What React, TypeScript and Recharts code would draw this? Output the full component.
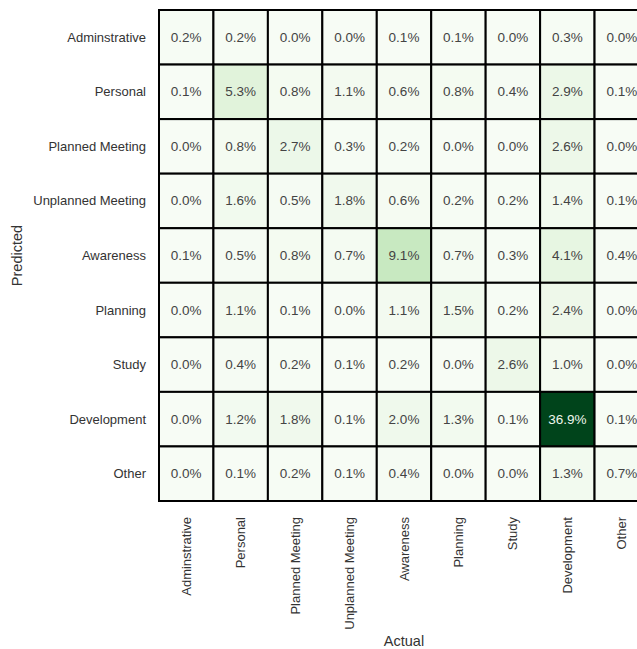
import React from 'react';
import { ScatterChart, Scatter, XAxis, YAxis } from 'recharts';

const categories = [
  'Adminstrative',
  'Personal',
  'Planned Meeting',
  'Unplanned Meeting',
  'Awareness',
  'Planning',
  'Study',
  'Development',
  'Other',
];

// rows = predicted, columns = actual (percent)
const rowAdminstrative = [0.2, 0.2, 0.0, 0.0, 0.1, 0.1, 0.0, 0.3, 0.0];
const rowPersonal = [0.1, 5.3, 0.8, 1.1, 0.6, 0.8, 0.4, 2.9, 0.1];
const rowPlannedMeeting = [0.0, 0.8, 2.7, 0.3, 0.2, 0.0, 0.0, 2.6, 0.0];
const rowUnplannedMeeting = [0.0, 1.6, 0.5, 1.8, 0.6, 0.2, 0.2, 1.4, 0.1];
const rowAwareness = [0.1, 0.5, 0.8, 0.7, 9.1, 0.7, 0.3, 4.1, 0.4];
const rowPlanning = [0.0, 1.1, 0.1, 0.0, 1.1, 1.5, 0.2, 2.4, 0.0];
const rowStudy = [0.0, 0.4, 0.2, 0.1, 0.2, 0.0, 2.6, 1.0, 0.0];
const rowDevelopment = [0.0, 1.2, 1.8, 0.1, 2.0, 1.3, 0.1, 36.9, 0.1];
const rowOther = [0.0, 0.1, 0.2, 0.1, 0.4, 0.0, 0.0, 1.3, 0.7];

const xLabel = 'Actual';
const yLabel = 'Predicted';

const matrix = [
  rowAdminstrative,
  rowPersonal,
  rowPlannedMeeting,
  rowUnplannedMeeting,
  rowAwareness,
  rowPlanning,
  rowStudy,
  rowDevelopment,
  rowOther,
];

const N = categories.length;
const VMAX = Math.max(...matrix.flat());

const data = matrix.flatMap((row, i) =>
  row.map((v, j) => ({ x: j + 0.5, y: i + 0.5, v }))
);
const ticks = categories.map((_, i) => i + 0.5);

const CHART_W = 670;
const CHART_H = 649;
const MARGIN = { top: 10, right: 21, bottom: 0, left: 0 };
const Y_AXIS_W = 159;
const X_AXIS_H = 148;
const PLOT_W = CHART_W - MARGIN.left - MARGIN.right - Y_AXIS_W;
const PLOT_H = CHART_H - MARGIN.top - MARGIN.bottom - X_AXIS_H;

const GREENS = [
  [247, 252, 245],
  [229, 245, 224],
  [199, 233, 192],
  [161, 217, 155],
  [116, 196, 118],
  [65, 171, 93],
  [35, 139, 69],
  [0, 109, 44],
  [0, 68, 27],
];

function greens(t: number): string {
  const tt = Math.max(0, Math.min(1, t)) * (GREENS.length - 1);
  const i = Math.min(Math.floor(tt), GREENS.length - 2);
  const f = tt - i;
  const a = GREENS[i];
  const b = GREENS[i + 1];
  const c = a.map((av, k) => Math.round(av + (b[k] - av) * f));
  return `rgb(${c[0]},${c[1]},${c[2]})`;
}

const FONT = '"Liberation Sans", Arial, Helvetica, sans-serif';

const CellShape = (props: any) => {
  const { cx, cy, payload } = props;
  const w = PLOT_W / N;
  const h = PLOT_H / N;
  const t = payload.v / VMAX;
  return (
    <g>
      <rect
        x={cx - w / 2}
        y={cy - h / 2}
        width={w}
        height={h}
        fill={greens(t)}
        stroke="#000"
        strokeWidth={2}
      />
      <text
        x={cx}
        y={cy}
        textAnchor="middle"
        dominantBaseline="central"
        fontSize={13.5}
        fontFamily={FONT}
        fill={t > 0.5 ? '#eef7ec' : '#444'}
      >
        {payload.v.toFixed(1)}%
      </text>
    </g>
  );
};

const XTick = (props: any) => {
  const { x, y, payload } = props;
  const label = categories[Math.floor(payload.value)];
  const ty = y + 16;
  return (
    <text
      x={x}
      y={ty}
      transform={`rotate(-90, ${x}, ${ty})`}
      textAnchor="end"
      dominantBaseline="central"
      fontSize={13}
      fontFamily={FONT}
      fill="#333"
    >
      {label}
    </text>
  );
};

const YTick = (props: any) => {
  const { x, y, payload } = props;
  const label = categories[Math.floor(payload.value)];
  return (
    <text
      x={x - 13}
      y={y}
      textAnchor="end"
      dominantBaseline="central"
      fontSize={13}
      fontFamily={FONT}
      fill="#333"
    >
      {label}
    </text>
  );
};

const XLabel = (props: any) => {
  const vb = props.viewBox || {};
  return (
    <text
      x={vb.x + vb.width / 2}
      y={vb.y + vb.height - 3}
      textAnchor="middle"
      fontSize={14.5}
      fontFamily={FONT}
      fill="#333"
    >
      {xLabel}
    </text>
  );
};

const YLabel = (props: any) => {
  const vb = props.viewBox || {};
  const cx = 22;
  const cy = vb.y + vb.height / 2;
  return (
    <text
      x={cx}
      y={cy}
      transform={`rotate(-90, ${cx}, ${cy})`}
      textAnchor="middle"
      fontSize={14.5}
      fontFamily={FONT}
      fill="#333"
    >
      {yLabel}
    </text>
  );
};

export default function App() {
  return (
    <div
      style={{
        position: 'fixed',
        left: 0,
        top: 0,
        width: 637,
        height: 649,
        overflow: 'hidden',
        background: '#fff',
        fontFamily: FONT,
      }}
    >
      <ScatterChart width={CHART_W} height={CHART_H} margin={MARGIN}>
        <XAxis
          type="number"
          dataKey="x"
          domain={[0, N]}
          ticks={ticks}
          interval={0}
          tick={<XTick />}
          tickLine={false}
          axisLine={false}
          tickSize={0}
          tickMargin={0}
          height={X_AXIS_H}
          label={XLabel}
        />
        <YAxis
          type="number"
          dataKey="y"
          domain={[0, N]}
          reversed
          ticks={ticks}
          interval={0}
          tick={<YTick />}
          tickLine={false}
          axisLine={false}
          tickSize={0}
          tickMargin={0}
          width={Y_AXIS_W}
          label={YLabel}
        />
        <Scatter data={data} shape={CellShape} isAnimationActive={false} />
      </ScatterChart>
    </div>
  );
}
